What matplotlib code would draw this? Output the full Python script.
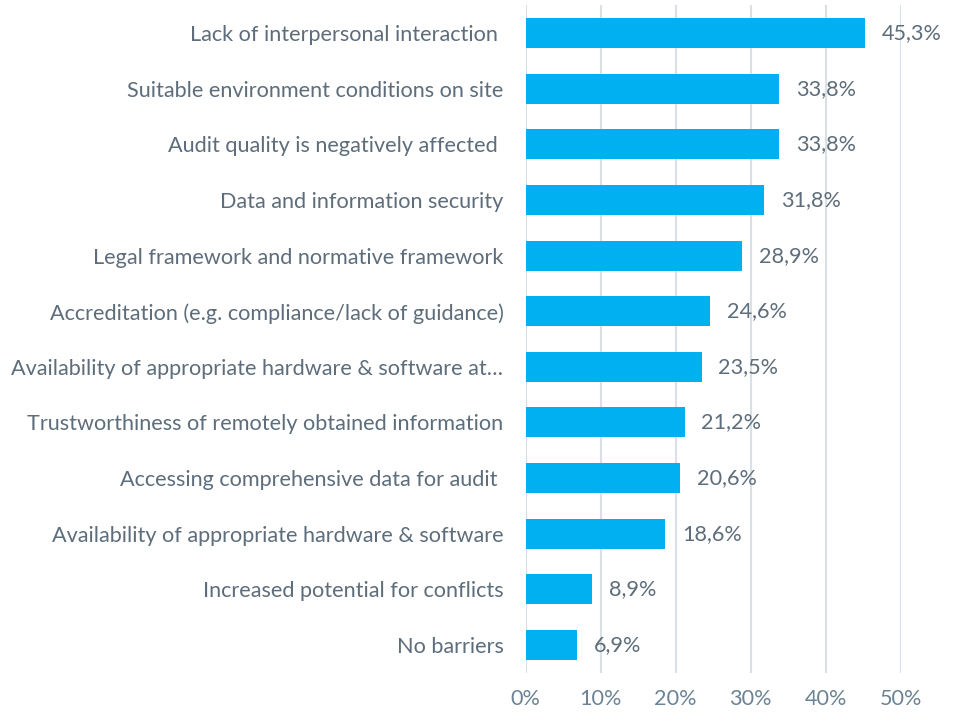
import matplotlib.pyplot as plt

plt.rcParams['font.family'] = ['Lato', 'DejaVu Sans']

categories = [
    'Lack of interpersonal interaction ',
    'Suitable environment conditions on site',
    'Audit quality is negatively affected ',
    'Data and information security',
    'Legal framework and normative framework',
    'Accreditation (e.g. compliance/lack of guidance)',
    'Availability of appropriate hardware & software at…',
    'Trustworthiness of remotely obtained information',
    'Accessing comprehensive data for audit ',
    'Availability of appropriate hardware & software',
    'Increased potential for conflicts',
    'No barriers',
]
values = [45.3, 33.8, 33.8, 31.8, 28.9, 24.6, 23.5, 21.2, 20.6, 18.6, 8.9, 6.9]
xticks = [0, 10, 20, 30, 40, 50]

bar_color = '#00b0f0'
text_color = '#5d6d7b'
tick_color = '#6b8394'
grid_color = '#d9e1e7'
fs = 15.6

fig = plt.figure(figsize=(9.61, 7.12), dpi=100)
ax = fig.add_axes([0.547, 0.0553, 0.3903, 0.937])

ypos = list(range(len(categories)))
ax.barh(ypos, values, height=0.54, color=bar_color, zorder=3)

for y, v in zip(ypos, values):
    ax.text(v + 2.2, y, f'{v:.1f}%'.replace('.', ','), va='center', ha='left',
            fontsize=fs, color=text_color)

ax.set_xlim(0, 50)
ax.set_ylim(len(categories) - 0.5, -0.5)
ax.set_xticks(xticks)
ax.set_xticklabels([f'{t}%' for t in xticks], fontsize=fs, color=tick_color)
ax.set_yticks(ypos)
ax.set_yticklabels(categories, fontsize=fs, color=text_color)
ax.tick_params(axis='x', length=0, pad=12)
ax.tick_params(axis='y', length=0, pad=16)

ax.grid(axis='x', color=grid_color, linewidth=1.5, zorder=0)
for s in ax.spines.values():
    s.set_visible(False)

fig.savefig('out.png', dpi=100)
